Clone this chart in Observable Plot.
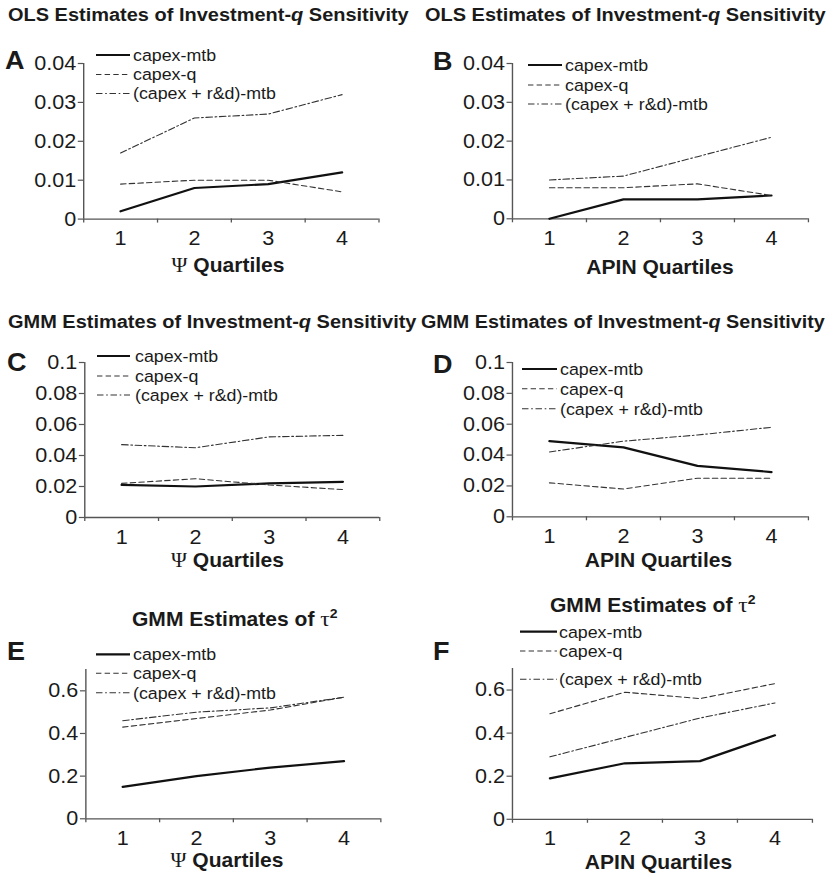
<!DOCTYPE html>
<html><head><meta charset="utf-8">
<script src="https://cdn.jsdelivr.net/npm/d3@7"></script>
<script src="https://cdn.jsdelivr.net/npm/@observablehq/plot@0.6"></script>
<style>
html,body{margin:0;padding:0;background:#fff;overflow:hidden}
#wrap{position:relative;width:769.44px;height:874px;transform:scaleX(1.08);transform-origin:0 0;}
#wrap svg{position:absolute;max-width:none}
</style></head><body><div id="wrap"></div>
<script>
// ---------- data ----------
const quartiles = [1, 2, 3, 4];
const seriesNames = ["capex-mtb", "capex-q", "(capex + r&d)-mtb"];

// Panel A: OLS, Psi quartiles
const olsPsiMtb = [0.002, 0.008, 0.009, 0.012];
const olsPsiQ   = [0.009, 0.010, 0.010, 0.007];
const olsPsiRd  = [0.017, 0.026, 0.027, 0.032];
// Panel B: OLS, APIN quartiles
const olsApinMtb = [0.000, 0.005, 0.005, 0.006];
const olsApinQ   = [0.008, 0.008, 0.009, 0.006];
const olsApinRd  = [0.010, 0.011, 0.016, 0.021];
// Panel C: GMM sensitivity, Psi quartiles
const gmmPsiMtb = [0.021, 0.020, 0.022, 0.023];
const gmmPsiQ   = [0.022, 0.025, 0.021, 0.018];
const gmmPsiRd  = [0.047, 0.045, 0.052, 0.053];
// Panel D: GMM sensitivity, APIN quartiles
const gmmApinMtb = [0.049, 0.045, 0.033, 0.029];
const gmmApinQ   = [0.022, 0.018, 0.025, 0.025];
const gmmApinRd  = [0.042, 0.049, 0.053, 0.058];
// Panel E: GMM tau^2, Psi quartiles
const tauPsiMtb = [0.15, 0.20, 0.24, 0.27];
const tauPsiQ   = [0.43, 0.47, 0.51, 0.57];
const tauPsiRd  = [0.46, 0.50, 0.52, 0.57];
// Panel F: GMM tau^2, APIN quartiles
const tauApinMtb = [0.19, 0.26, 0.27, 0.39];
const tauApinQ   = [0.49, 0.59, 0.56, 0.63];
const tauApinRd  = [0.29, 0.38, 0.47, 0.54];

const ticksSmall = [0, 0.01, 0.02, 0.03, 0.04];
const ticksMid   = [0, 0.02, 0.04, 0.06, 0.08, 0.1];
const ticksTau   = [0, 0.2, 0.4, 0.6];

// ---------- layout ----------
const S = 1.08;
const SANS = "'Liberation Sans', Arial, Helvetica, sans-serif";
const SERIF = "'Liberation Serif', 'DejaVu Serif', serif";
const INK = "#1a1a1a";
const AXIS = "#555";
const styles = [
  {stroke: "#111", strokeWidth: 2.2, dash: null},
  {stroke: "#333", strokeWidth: 1.1, dash: "5,3"},
  {stroke: "#333", strokeWidth: 1.1, dash: "6,2.5,1.5,2.5"}
];

const panels = [
  {series: [olsPsiMtb, olsPsiQ, olsPsiRd], ymax: 0.04, ticks: ticksSmall,
   ax: 82.7, ex: 378, yt: 62.7, yb: 218.3,
   leg: {x1: 96, x2: 130, tx: 133, rows: [55, 74.5, 93.5]}},
  {series: [olsApinMtb, olsApinQ, olsApinRd], ymax: 0.04, ticks: ticksSmall,
   ax: 512, ex: 808, yt: 62.7, yb: 218,
   leg: {x1: 528, x2: 562, tx: 565, rows: [65, 85, 104]}},
  {series: [gmmPsiMtb, gmmPsiQ, gmmPsiRd], ymax: 0.1, ticks: ticksMid,
   ax: 84, ex: 379, yt: 361.7, yb: 516.7,
   leg: {x1: 97, x2: 130, tx: 135, rows: [356, 376, 395]}},
  {series: [gmmApinMtb, gmmApinQ, gmmApinRd], ymax: 0.1, ticks: ticksMid,
   ax: 512, ex: 808, yt: 361.7, yb: 516,
   leg: {x1: 522, x2: 557, tx: 560, rows: [369, 388.7, 408.7]}},
  {series: [tauPsiMtb, tauPsiQ, tauPsiRd], ymax: 0.7, ticks: ticksTau,
   ax: 85, ex: 380, yt: 669.2, yb: 818.5,
   leg: {x1: 96, x2: 130, tx: 133, rows: [654.3, 673.3, 692.7]}},
  {series: [tauApinMtb, tauApinQ, tauApinRd], ymax: 0.7, ticks: ticksTau,
   ax: 512, ex: 812, yt: 667.5, yb: 818.3,
   leg: {x1: 520, x2: 557, tx: 559, rows: [631.7, 651, 679.3]}}
];

const fmt = d => d === 0 ? "0" : String(+d.toFixed(3));
const wrap = document.getElementById("wrap");

for (const p of panels) {
  const mL = 60, mR = 12, mT = 12, mB = 42;
  const axU = p.ax / S, exU = p.ex / S;
  const width = (exU - axU) + mL + mR;
  const height = (p.yb - p.yt) + mT + mB;
  const lineMarks = p.series.map((vals, i) => Plot.line(
    quartiles.map((q, j) => ({q, v: vals[j]})),
    {x: "q", y: "v", stroke: styles[i].stroke, strokeWidth: styles[i].strokeWidth,
     strokeDasharray: styles[i].dash, strokeLinejoin: "round"}));
  const svg = Plot.plot({
    width, height, marginLeft: mL, marginRight: mR, marginTop: mT, marginBottom: mB,
    x: {domain: [0.5, 4.5]},
    y: {domain: [0, p.ymax]},
    style: {fontFamily: SANS, fontSize: "20px", color: INK, background: "transparent", overflow: "visible"},
    marks: [
      Plot.axisY({ticks: p.ticks, tickFormat: fmt, tickSize: 5, tickPadding: 2, label: null, stroke: AXIS, strokeWidth: 1.2}),
      Plot.axisX({ticks: [0.5, 1.5, 2.5, 3.5, 4.5], tickFormat: () => "", tickSize: 4, label: null, stroke: AXIS, strokeWidth: 1.2}),
      Plot.axisX({ticks: quartiles, tickFormat: d => String(d), tickSize: 0, tickPadding: 12, label: null}),
      Plot.ruleX([0.5], {stroke: AXIS, strokeWidth: 1.3}),
      Plot.ruleY([0], {stroke: AXIS, strokeWidth: 1.3}),
      ...lineMarks
    ]
  });
  svg.style.left = (axU - mL) + "px";
  svg.style.top = (p.yt - mT) + "px";
  wrap.appendChild(svg);
}

// ---------- overlay: titles, panel letters, axis titles, legends ----------
const W = 831 / S;
const ov = d3.select(wrap).append("svg")
  .attr("width", W).attr("height", 874)
  .style("left", "0px").style("top", "0px")
  .style("font-family", SANS).attr("fill", INK);

function text(x, y, parts, base) {
  const t = ov.append("text").attr("x", x / S).attr("y", y)
    .attr("font-size", base.size).attr("font-weight", base.weight || "normal")
    .attr("text-anchor", base.anchor || "start");
  for (const part of parts) {
    const s = t.append("tspan").text(part.t);
    if (part.family) s.attr("font-family", part.family);
    if (part.italic) s.attr("font-style", "italic");
    if (part.weight) s.attr("font-weight", part.weight);
    if (part.size) s.attr("font-size", part.size);
    if (part.dy) s.attr("dy", part.dy);
  }
}

const invTitle = (lead) => [
  {t: lead + " Estimates of Investment-"}, {t: "q", italic: true}, {t: " Sensitivity"}];
const tauTitle = [
  {t: "GMM Estimates of "}, {t: "\u03C4", family: SERIF, weight: "normal", size: 22},
  {t: "2", size: 13, dy: -8}];
const psiLabel = [{t: "\u03A8", family: SERIF, weight: "normal", size: 20}, {t: " Quartiles"}];
const apinLabel = [{t: "APIN Quartiles"}];

// titles
text(8, 21.5, invTitle("OLS"), {size: 18.5, weight: "bold"});
text(425, 21.5, invTitle("OLS"), {size: 18.5, weight: "bold"});
text(8, 328.3, invTitle("GMM"), {size: 18.5, weight: "bold"});
text(421, 328.3, invTitle("GMM"), {size: 18.3, weight: "bold"});
text(132, 626, tauTitle, {size: 19.5, weight: "bold"});
text(550, 612, tauTitle, {size: 19.5, weight: "bold"});

// panel letters
const letters = [["A", 5, 69], ["B", 433, 70], ["C", 7, 371], ["D", 433, 373], ["E", 7, 660], ["F", 433, 660]];
for (const [l, x, y] of letters) text(x, y, [{t: l}], {size: 25, weight: "bold"});

// x-axis titles
text(228, 272, psiLabel, {size: 19.5, weight: "bold", anchor: "middle"});
text(660, 274, apinLabel, {size: 19.5, weight: "bold", anchor: "middle"});
text(227.5, 567, psiLabel, {size: 19.5, weight: "bold", anchor: "middle"});
text(658.5, 567, apinLabel, {size: 19.5, weight: "bold", anchor: "middle"});
text(227, 867, psiLabel, {size: 19.5, weight: "bold", anchor: "middle"});
text(658.5, 869, apinLabel, {size: 19.5, weight: "bold", anchor: "middle"});

// legends
for (const p of panels) {
  const g = p.leg;
  seriesNames.forEach((name, i) => {
    const y = g.rows[i];
    ov.append("line").attr("x1", g.x1 / S).attr("x2", g.x2 / S).attr("y1", y).attr("y2", y)
      .attr("stroke", styles[i].stroke).attr("stroke-width", styles[i].strokeWidth)
      .attr("stroke-dasharray", styles[i].dash);
    ov.append("text").attr("x", g.tx / S).attr("y", y).attr("dy", "0.36em")
      .attr("font-size", 16.5).text(name);
  });
}
</script></body></html>
